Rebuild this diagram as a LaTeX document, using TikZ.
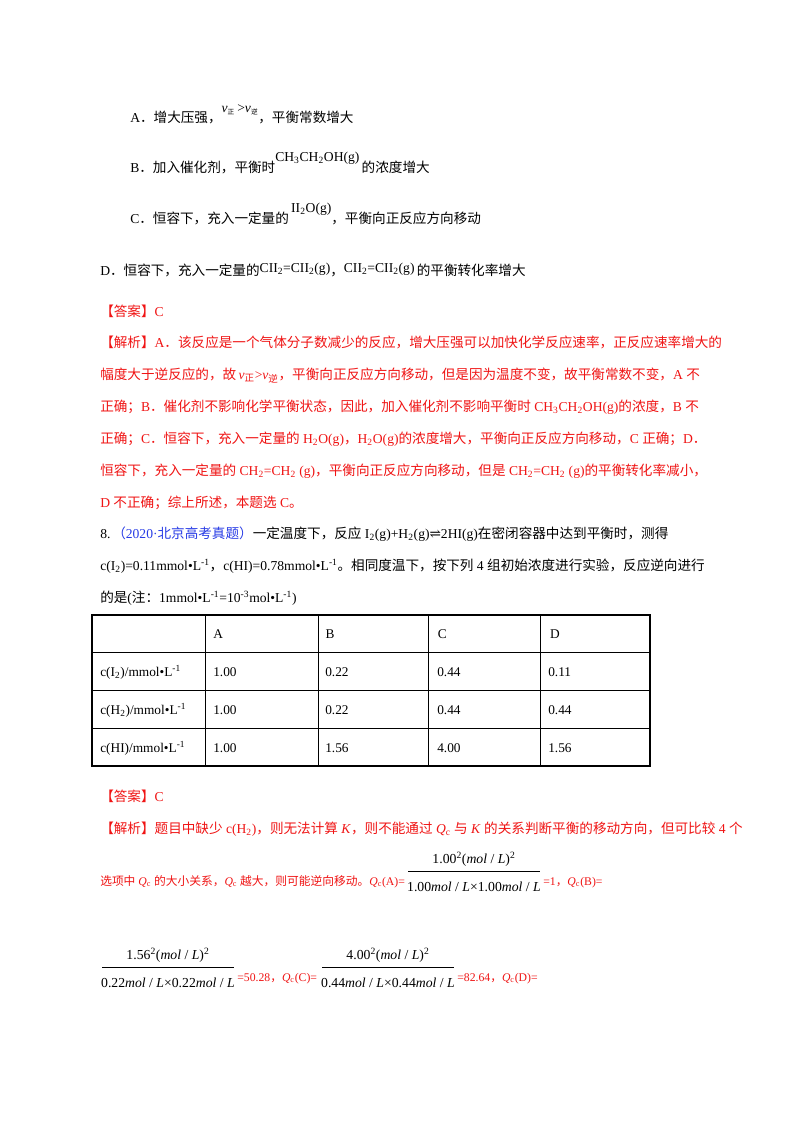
\documentclass[tikz,border=0pt]{standalone}
\usepackage{fontspec}
\setmainfont{Liberation Serif}
\newfontfamily\cjk{Noto Sans CJK SC}
\newfontfamily\dejav{DejaVu Serif}
\newXeTeXintercharclass\cjkclass
\newcount\cc
\cc="4E00 \loop \XeTeXcharclass\cc=\cjkclass \advance\cc 1 \ifnum\cc<"A000 \repeat
\cc="3000 \loop \XeTeXcharclass\cc=\cjkclass \advance\cc 1 \ifnum\cc<"3040 \repeat
\cc="FF00 \loop \XeTeXcharclass\cc=\cjkclass \advance\cc 1 \ifnum\cc<"FFF0 \repeat
\XeTeXinterchartoks 0 \cjkclass={\cjk}
\XeTeXinterchartoks 4095 \cjkclass={\cjk}
\XeTeXinterchartoks \cjkclass 0={\rmfamily}
\XeTeXinterchartoks \cjkclass 4095={\rmfamily}
\XeTeXinterchartokenstate=1
\newcommand\dn[1]{\textsubscript{#1}}
\newcommand\up[1]{\textsuperscript{#1}}
\definecolor{ans}{RGB}{240,20,20}
\definecolor{src}{RGB}{40,60,230}
\tikzset{ln/.style={anchor=base west,inner sep=0pt,font=\fontsize{10.2}{12}\selectfont},
 red/.style={ln,text=ans}, reds/.style={red,font=\fontsize{8.8}{10}\selectfont},
 tb/.style={anchor=base west,inner sep=0pt,font=\fontsize{10}{12}\selectfont},
 fr/.style={anchor=base,inner sep=0pt,font=\fontsize{10.3}{12}\selectfont}}
\begin{document}
\begin{tikzpicture}[x=0.75pt,y=-0.75pt]
\useasboundingbox[fill=white] (0,0) rectangle (800,1132);
\node[ln] (a) at (130,122) {A．增大压强，\raisebox{7pt}{\textit{v}\dn{\tiny 正}\,>\textit{v}\dn{\tiny 逆}}，平衡常数增大};
\node[ln] (b) at (130,172) {B．加入催化剂，平衡时\raisebox{8pt}{CH\dn{3}CH\dn{2}OH(g)}\,的浓度增大};
\node[ln] (c) at (130,223) {C．恒容下，充入一定量的\,\raisebox{8pt}{II\dn{2}O(g)}，平衡向正反应方向移动};
\node[ln] (d) at (100,275) {D．恒容下，充入一定量的\raisebox{2pt}{CII\dn{2}=CII\dn{2}(g)}，\raisebox{2pt}{CII\dn{2}=CII\dn{2}(g)}\,的平衡转化率增大};
\node[red] (an1) at (100,316) {【答案】C};
\node[red] (j1) at (100,347) {【解析】A．该反应是一个气体分子数减少的反应，增大压强可以加快化学反应速率，正反应速率增大的};
\node[red] (j2) at (100,379) {幅度大于逆反应的，故\,\textit{v}\dn{正}>\textit{v}\dn{逆}，平衡向正反应方向移动，但是因为温度不变，故平衡常数不变，A 不};
\node[red] (j3) at (100,411) {正确；B．催化剂不影响化学平衡状态，因此，加入催化剂不影响平衡时 CH\dn{3}CH\dn{2}OH(g)的浓度，B 不};
\node[red] (j4) at (100,443) {正确；C．恒容下，充入一定量的 H\dn{2}O(g)，H\dn{2}O(g)的浓度增大，平衡向正反应方向移动，C 正确；D．};
\node[red] (j5) at (100,475) {恒容下，充入一定量的 CH\dn{2}=CH\dn{2} (g)，平衡向正反应方向移动，但是 CH\dn{2}=CH\dn{2} (g)的平衡转化率减小，};
\node[red] (j6) at (100,507) {D 不正确；综上所述，本题选 C。};
\node[ln] (q8) at (100,538) {8.};
\node[ln] (q8a) at (112,538) {\textcolor{src}{（2020·北京高考真题）}一定温度下，反应 I\dn{2}(g)+H\dn{2}(g){\dejav ⇌}2HI(g)在密闭容器中达到平衡时，测得};
\node[ln] (q8b) at (100,570) {c(I\dn{2})=0.11mmol•L\up{-1}，c(HI)=0.78mmol•L\up{-1}。相同度温下，按下列 4 组初始浓度进行实验，反应逆向进行};
\node[ln] (q8c) at (100,602) {的是(注：1mmol•L\up{-1}=10\up{-3}mol•L\up{-1})};
% table
\draw[line width=0.8pt] (92,615) rectangle (650,766);
\foreach \y in {652,690,728} \draw[line width=0.6pt] (92,\y) -- (650,\y);
\foreach \x in {205,318,428,540} \draw[line width=0.6pt] (\x,615) -- (\x,766);
\foreach \t [count=\i] in {A,B,C,D} \node[tb] (h\i) at ({213+(\i-1)*112.3},638) {\t};
\node[tb] (r1) at (100,676) {c(I\dn{2})/mmol•L\up{-1}};
\node[tb] (r2) at (100,714) {c(H\dn{2})/mmol•L\up{-1}};
\node[tb] (r3) at (100,752) {c(HI)/mmol•L\up{-1}};
\foreach \a/\b/\c/\d [count=\j] in {1.00/0.22/0.44/0.11,1.00/0.22/0.44/0.44,1.00/1.56/4.00/1.56}{
 \node[tb] at (213,638+38*\j) {\a}; \node[tb] at (325,638+38*\j) {\b};
 \node[tb] at (437,638+38*\j) {\c}; \node[tb] at (548,638+38*\j) {\d};}
\node[red] (an2) at (100,801) {【答案】C};
\node[red] (k1) at (100,833) {【解析】题目中缺少 c(H\dn{2})，则无法计算 \textit{K}，则不能通过 \textit{Q}\dn{c} 与 \textit{K} 的关系判断平衡的移动方向，但可比较 4 个};
\node[reds] (k2) at (100,885) {选项中 \textit{Q}\dn{c} 的大小关系，\textit{Q}\dn{c} 越大，则可能逆向移动。\textit{Q}\dn{c}(A)=};
\draw[line width=0.5pt] (408,871) -- (540,871);
\node[fr] (f1n) at (474,863) {1.00\up{2}(\textit{mol} / \textit{L})\up{2}};
\node[fr] (f1d) at (474,891) {1.00\textit{mol} / \textit{L}×1.00\textit{mol} / \textit{L}};
\node[reds] (k3) at (543,885) {=1，\textit{Q}\dn{c}(B)=};
\draw[line width=0.5pt] (102,967) -- (234,967);
\node[fr] (f2n) at (168,959) {1.56\up{2}(\textit{mol} / \textit{L})\up{2}};
\node[fr] (f2d) at (168,987) {0.22\textit{mol} / \textit{L}×0.22\textit{mol} / \textit{L}};
\node[reds] (k4) at (237,981) {=50.28，\textit{Q}\dn{c}(C)=};
\draw[line width=0.5pt] (322,967) -- (454,967);
\node[fr] (f3n) at (388,959) {4.00\up{2}(\textit{mol} / \textit{L})\up{2}};
\node[fr] (f3d) at (388,987) {0.44\textit{mol} / \textit{L}×0.44\textit{mol} / \textit{L}};
\node[reds] (k5) at (457,981) {=82.64，\textit{Q}\dn{c}(D)=};
\end{tikzpicture}
\end{document}
